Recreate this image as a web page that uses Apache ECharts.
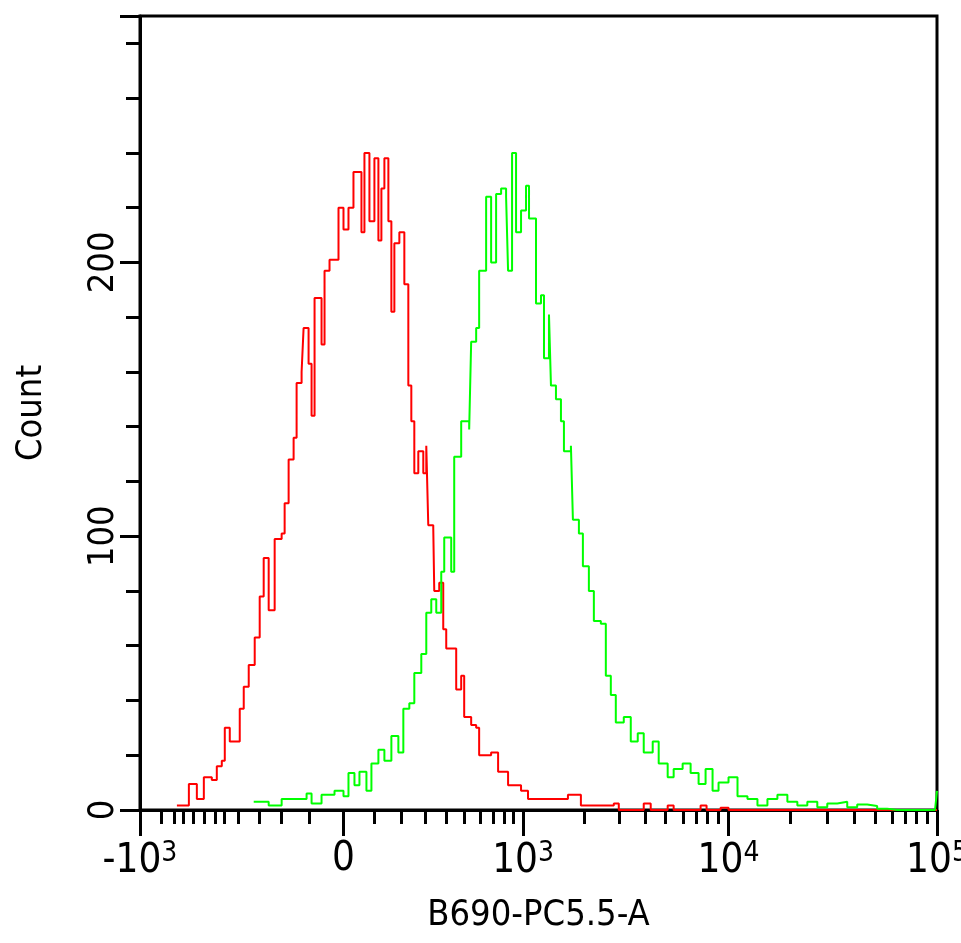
<!DOCTYPE html>
<html>
<head>
<meta charset="UTF-8">
<title>Histogram</title>
<style>html,body{margin:0;background:#fff}</style>
</head>
<body>
<div id="main" style="width:961px;height:943px;"></div>
<script src="https://cdn.jsdelivr.net/npm/echarts@6/dist/echarts.min.js"></script>
<script>
// channel position (0..799 across the axis) and count
var redX = [37,49,57,64,72,77,82,85,90,97,100,104,109,115,120,124,129,135,142,145,149,154,157,162,164,169,172,175,182,185,190,199,199,204,209,214,222,225,230,235,239,242,245,249,252,255,260,265,269,272,275,279,284,287,289,294,295,300,304,307,314,317,322,325,332,337,340,352,359,369,382,389,409,429,442,475,480,505,512,529,535,562,568,582,590,799];
var redY = [1.6,9.5,4,12,11,16,18,30,25,25,37,45,53,63,78,92,73,99,101,112,128,136,156,160,176,163,144,187,170,197,201,201,220,212,220,233,211,240,215,238,208,227,238,215,182,207,211,192,155,142,123,131,123,133,104,103,80,83,66,59,59,44,49,34,31,30,20,21,14,9,7,4,4,5.6,1.6,2.4,0,2.4,0,1.6,0,1.6,0,0.8,0,0];
var greenX = [114,129,142,155,167,172,182,195,204,209,215,220,227,232,239,245,252,259,264,270,275,282,287,292,297,302,305,312,315,322,330,332,337,340,342,347,352,357,362,367,369,373,377,382,387,390,397,397,402,405,410,412,417,422,425,432,434,440,444,450,455,462,467,472,477,485,492,499,505,514,520,529,535,544,552,560,567,574,580,590,599,609,619,629,639,649,659,669,679,689,699,709,719,729,739,749,759,769,779,789,797,799];
var greenY = [3,1.6,4,4,6,2.4,5.6,7,5,13.5,9,14,7,17,22,18,27,21,37,39,50,57,72,77,72,87,99.5,87,129,142,139,171,176,197,197,224,200,225,227,224,197,240,211,219,228,216,216,185,188,165,181,155,150,142,131,133,106,101,89,80,69,68,49,42,32,34,25,28,21,25,17,12,15,17,13.5,9.5,15,7,10,12,5,4,1.6,4,5.6,3,1.6,3,1,2.4,3,1,2,1.5,0.5,0,0,0,0,0,0,7];
var majorTicks = [0,204,384,590,799];
var majorLabels = ['-10{s|3}','0','10{s|3}','10{s|4}','10{s|5}'];
var minorTicks = [21,34,43,53,64,75,84,98,120,142,170,235,262,286,307,325,341,354,365,374,445,480,507,527,545,558,569,580,652,689,716,737,754,767,778,789];
var yMax = 290;

function pairs(xs, ys) {
    var out = [];
    for (var i = 0; i < xs.length; i++) out.push([xs[i], ys[i]]);
    return out;
}

var font = "'Liberation Sans Narrow','DejaVu Sans Condensed','Liberation Sans',sans-serif";
var chart = echarts.init(document.getElementById('main'));
chart.setOption({
    animation: false,
    grid: {left: 140, right: 24, top: 16, bottom: 133, outerBoundsMode: 'none', show: true, borderColor: '#000', borderWidth: 3, backgroundColor: '#fff'},
    xAxis: [{
        type: 'value', min: 0, max: 799, position: 'bottom',
        axisLine: {lineStyle: {color: '#000', width: 3}},
        splitLine: {show: false},
        axisTick: {length: 26, inside: false, lineStyle: {color: '#000', width: 3}, customValues: majorTicks},
        axisLabel: {
            customValues: majorTicks, margin: 30, color: '#000', fontFamily: font, fontSize: 40,
            formatter: function (v) { return majorLabels[majorTicks.indexOf(v)]; },
            rich: {s: {fontSize: 28, verticalAlign: 'top', fontFamily: font, color: '#000', padding: [0, 0, 16, 0]}}
        },
        name: 'B690-PC5.5-A', nameLocation: 'middle', nameGap: 88,
        nameTextStyle: {color: '#000', fontFamily: font, fontSize: 36}
    }, {
        type: 'value', min: 0, max: 799, position: 'bottom',
        axisLine: {show: false}, splitLine: {show: false}, axisLabel: {show: false},
        axisTick: {length: 14, inside: false, lineStyle: {color: '#000', width: 3}, customValues: minorTicks}
    }],
    yAxis: [{
        type: 'value', min: 0, max: yMax, interval: 100,
        axisLine: {show: true, lineStyle: {color: '#000', width: 3}},
        splitLine: {show: false},
        axisTick: {show: true, length: 20, lineStyle: {color: '#000', width: 3}},
        axisLabel: {color: '#000', fontFamily: font, fontSize: 36, rotate: 90, margin: 18,
            formatter: function (v) { return v % 100 === 0 && v <= 200 ? String(v) : ''; }},
        name: 'Count', nameLocation: 'middle', nameGap: 90, nameRotate: 90,
        nameTextStyle: {color: '#000', fontFamily: font, fontSize: 36}
    }, {
        type: 'value', min: 0, max: yMax, interval: 20, position: 'left',
        axisLine: {show: false}, splitLine: {show: false}, axisLabel: {show: false},
        axisTick: {show: true, length: 14, lineStyle: {color: '#000', width: 3}}
    }],
    series: [{
        type: 'line', data: pairs(redX, redY), symbol: 'none', step: 'end',
        lineStyle: {color: '#ff0000', width: 2}
    }, {
        type: 'line', data: pairs(greenX, greenY), symbol: 'none', step: 'end',
        lineStyle: {color: '#00ff00', width: 2}
    }]
});
</script>
</body>
</html>
